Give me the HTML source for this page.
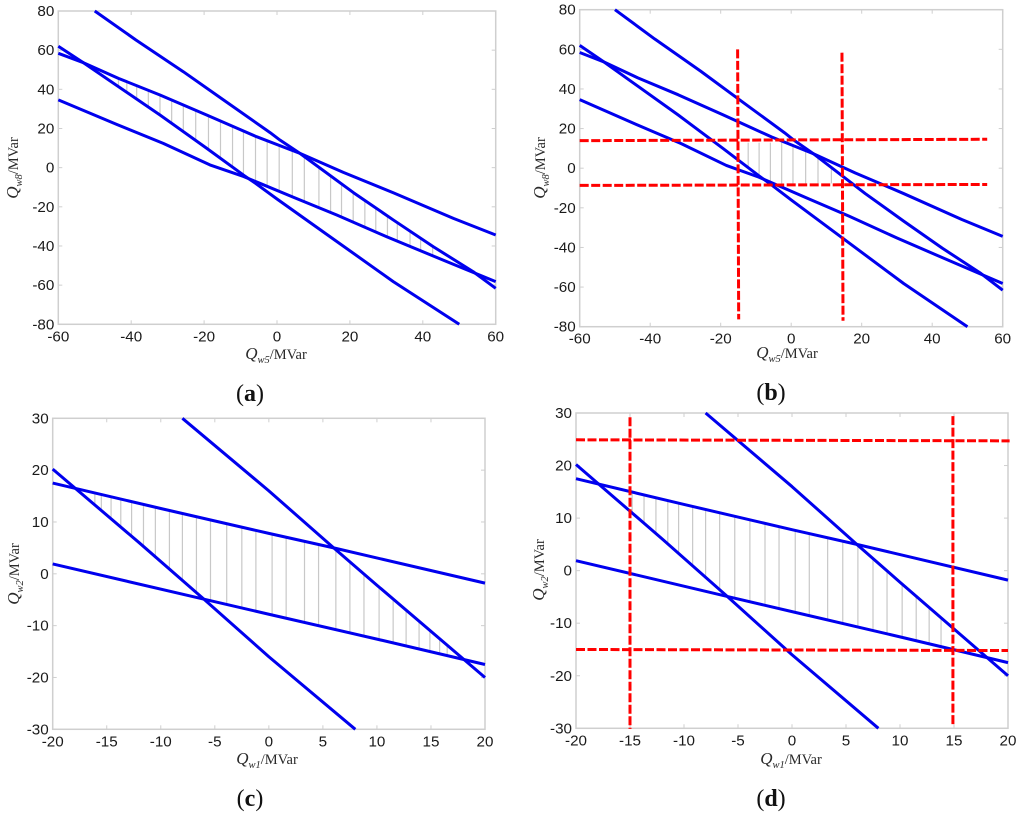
<!DOCTYPE html>
<html lang="en">
<head>
<meta charset="utf-8">
<title>Feasible reactive power regions</title>
<style>
html,body{margin:0;padding:0;background:#fff;}
#figure{display:block;width:1024px;height:815px;filter:blur(0.35px);}
.tick{font-family:"Liberation Sans",sans-serif;font-size:15.2px;fill:#1a1a1a;}
.axl{font-family:"Liberation Serif",serif;font-size:14.5px;fill:#2a2a2a;}
.axl .i{font-style:italic;font-size:17px;}
.axl .s{font-style:italic;font-size:10.5px;}
.cap{font-family:"Liberation Serif",serif;font-size:24px;fill:#111;}
.cap .b{font-weight:bold;}
</style>
</head>
<body>
<svg id="figure" xmlns="http://www.w3.org/2000/svg" width="1024" height="815" viewBox="0 0 1024 815">
  <g id="panel-a">
    <text class="axl" x="276" y="359" text-anchor="middle"><tspan class="i">Q</tspan><tspan class="s" dy="4">w5</tspan><tspan dy="-4">/MVar</tspan></text>
    <text class="axl" transform="translate(18,168) rotate(-90)" text-anchor="middle"><tspan class="i">Q</tspan><tspan class="s" dy="4">w8</tspan><tspan dy="-4">/MVar</tspan></text>
    <text class="cap" x="250" y="401" text-anchor="middle">(<tspan class="b">a</tspan>)</text>
  </g>
  <g id="panel-b">
    <text class="axl" x="787" y="358" text-anchor="middle"><tspan class="i">Q</tspan><tspan class="s" dy="4">w5</tspan><tspan dy="-4">/MVar</tspan></text>
    <text class="axl" transform="translate(545,168) rotate(-90)" text-anchor="middle"><tspan class="i">Q</tspan><tspan class="s" dy="4">w8</tspan><tspan dy="-4">/MVar</tspan></text>
    <text class="cap" x="771" y="400" text-anchor="middle">(<tspan class="b">b</tspan>)</text>
  </g>
  <g id="panel-c">
    <text class="axl" x="267" y="764" text-anchor="middle"><tspan class="i">Q</tspan><tspan class="s" dy="4">w1</tspan><tspan dy="-4">/MVar</tspan></text>
    <text class="axl" transform="translate(19,574) rotate(-90)" text-anchor="middle"><tspan class="i">Q</tspan><tspan class="s" dy="4">w2</tspan><tspan dy="-4">/MVar</tspan></text>
    <text class="cap" x="250" y="806" text-anchor="middle">(<tspan class="b">c</tspan>)</text>
  </g>
  <g id="panel-d">
    <text class="axl" x="791" y="764" text-anchor="middle"><tspan class="i">Q</tspan><tspan class="s" dy="4">w1</tspan><tspan dy="-4">/MVar</tspan></text>
    <text class="axl" transform="translate(544,570) rotate(-90)" text-anchor="middle"><tspan class="i">Q</tspan><tspan class="s" dy="4">w2</tspan><tspan dy="-4">/MVar</tspan></text>
    <text class="cap" x="771" y="806" text-anchor="middle">(<tspan class="b">d</tspan>)</text>
  </g>
</svg>
<script>
// Tick values
var ticksX58 = [-60, -40, -20, 0, 20, 40, 60];
var ticksY58 = [-80, -60, -40, -20, 0, 20, 40, 60, 80];
var ticksX12 = [-20, -15, -10, -5, 0, 5, 10, 15, 20];
var ticksY12 = [-30, -20, -10, 0, 10, 20, 30];

// Boundary lines, Qw5 / Qw8 (panels a, b)
var line58AX = [-50, -38.7, -25.7, -14.7, -1.9, 0.8, 6.3, 21, 31.9, 42.9, 53.8, 60];
var line58AY = [80, 65.2, 49, 34.6, 17.9, 14.1, 7.3, -12.8, -26.7, -40.4, -53.1, -61.6];
var line58BX = [-60, -53.1, -32.1, -19.3, -9.2, -5.9, 0, 13.6, 31.9, 50];
var line58BY = [62, 53.6, 26.9, 9.9, -3.8, -8, -16, -34, -58.2, -80];
var line58CX = [-60, -53.1, -43.5, -32.1, -19.3, -5.6, 6.3, 18.2, 31.9, 48.4, 60];
var line58CY = [58.4, 53.6, 45.6, 37.1, 26.9, 15.8, 7.3, -2.4, -12.8, -25.9, -34.4];
var line58DX = [-60, -44, -31.2, -18.4, -9.2, -4.7, 4.5, 16.4, 30.1, 46.6, 60];
var line58DY = [34.6, 22.1, 12.4, 1.4, -4.5, -8, -15.1, -24.2, -35.3, -48, -58.2];

// Boundary lines, Qw1 / Qw2 (panels c, d)
var line12AX = [-8, 0, 6, 10, 20];
var line12AY = [30, 16, 5, -2.2, -20];
var line12BX = [-20, -12, -6, 0, 8];
var line12BY = [20.2, 6, -4.9, -16, -30];
var line12CX = [-20, -10, 0, 6, 20];
var line12CY = [17.5, 12.6, 7.8, 5, -1.8];
var line12DX = [-20, -6, 0, 10, 20];
var line12DY = [1.9, -4.9, -7.8, -12.6, -17.5];

// Hatch positions along x
var hatchA = [-43.5,-41.2,-38.5,-35.3,-32.1,-28.9,-25.7,-22.3,-18.8,-15.5,-12.2,-9.2,-5.9,-2.7,0.6,4.2,7.5,11.5,14.7,17.7,20.9,24.1,27.1,30.3,33,36.5,39.4,42.7];
var hatchB = [-12.2,-9.1,-5.9,-2.7,0.5,4.1,7.6,11.4];
var hatchC = [-16.1,-15.5,-14.6,-13.7,-12.7,-11.6,-10.5,-9.2,-8,-6.7,-5.4,-3.9,-2.5,-1.2,0.3,1.6,3.3,4.6,6.2,7.5,8.8,10.2,11.5,12.7,13.9,14.9,15.8,16.5];
var hatchD = [-14.8,-13.7,-12.6,-11.5,-10.5,-9.2,-8,-6.7,-5.3,-3.9,-2.5,-1.2,0.3,1.6,3.3,4.7,6.1,7.5,8.8,10.2,11.5,12.7,13.8];

// Hatch limits imposed by the dashed limit lines (panel b, d)
var hatchLimitsB = [-7.7, 12.9];
var hatchLimitsD = [-15, 24.8];

// Red dashed limits: [x1, y1, x2, y2] in data units
var limitsBV1 = [-15.2, 60, -14.9, -76.3];
var limitsBV2 = [14.4, 58.3, 14.7, -77];
var limitsBH1 = [-60, 13.9, 55.6, 14.6];
var limitsBH2 = [-60, -8.7, 55.6, -8.2];
var limitsDV1 = [-15, 29.2, -15, -30.1];
var limitsDV2 = [14.9, 29.4, 14.9, -29.5];
var limitsDH1 = [-20, 24.9, 20.15, 24.7];
var limitsDH2 = [-20, -15, 20, -15.2];

var SVGNS = 'http://www.w3.org/2000/svg';

function mk(tag, attrs, parent) {
  var el = document.createElementNS(SVGNS, tag);
  for (var k in attrs) el.setAttribute(k, attrs[k]);
  parent.appendChild(el);
  return el;
}

function interp(xs, ys, x) {
  if (x <= xs[0]) return ys[0] + (x - xs[0]) * (ys[1] - ys[0]) / (xs[1] - xs[0]);
  for (var i = 1; i < xs.length; i++) {
    if (x <= xs[i]) return ys[i - 1] + (x - xs[i - 1]) * (ys[i] - ys[i - 1]) / (xs[i] - xs[i - 1]);
  }
  var n = xs.length - 1;
  return ys[n] + (x - xs[n]) * (ys[n] - ys[n - 1]) / (xs[n] - xs[n - 1]);
}

function drawPanel(p) {
  var g = document.getElementById(p.id);
  var xMin = p.ticksX[0], xMax = p.ticksX[p.ticksX.length - 1];
  var yMin = p.ticksY[0], yMax = p.ticksY[p.ticksY.length - 1];
  var sx = function (v) { return p.left + (v - xMin) / (xMax - xMin) * (p.right - p.left); };
  var sy = function (v) { return p.bottom - (v - yMin) / (yMax - yMin) * (p.bottom - p.top); };

  var frame = mk('rect', {x: p.left, y: p.top, width: p.right - p.left, height: p.bottom - p.top, fill: 'none', stroke: '#cfcfcf', 'stroke-width': 1.5}, g);
  
  

  p.ticksX.forEach(function (v) {
    var x = sx(v);
    var t1 = mk('line', {x1: x, x2: x, y1: p.bottom, y2: p.bottom - 4, stroke: '#cfcfcf', 'stroke-width': 1}, g);
    
    
    var t2 = mk('line', {x1: x, x2: x, y1: p.top, y2: p.top + 4, stroke: '#cfcfcf', 'stroke-width': 1}, g);
    
    
    var lab = mk('text', {x: x, y: p.bottom + 17, 'text-anchor': 'middle', 'class': 'tick'}, g);
    
    
    lab.textContent = String(v);
  });

  p.ticksY.forEach(function (v) {
    var y = sy(v);
    var t1 = mk('line', {x1: p.left, x2: p.left + 4, y1: y, y2: y, stroke: '#cfcfcf', 'stroke-width': 1}, g);
    
    
    var t2 = mk('line', {x1: p.right, x2: p.right - 4, y1: y, y2: y, stroke: '#cfcfcf', 'stroke-width': 1}, g);
    
    
    var lab = mk('text', {x: p.left - 4, y: y + 5, 'text-anchor': 'end', 'class': 'tick'}, g);
    
    
    lab.textContent = String(v);
  });

  p.hatch.forEach(function (x) {
    var top = Math.min(interp(p.lines[0][0], p.lines[0][1], x), interp(p.lines[2][0], p.lines[2][1], x));
    var bot = Math.max(interp(p.lines[1][0], p.lines[1][1], x), interp(p.lines[3][0], p.lines[3][1], x));
    if (p.hatchLimits) {
      top = Math.min(top, p.hatchLimits[1]);
      bot = Math.max(bot, p.hatchLimits[0]);
    }
    var h = mk('line', {x1: sx(x), x2: sx(x), y1: sy(top), y2: sy(bot), stroke: '#c8c8c8', 'stroke-width': 1.2}, g);
    
    
  });

  p.lines.forEach(function (ln) {
    var pts = ln[0].map(function (x, i) { return sx(x) + ',' + sy(ln[1][i]); }).join(' ');
    var pl = mk('polyline', {points: pts, fill: 'none', stroke: '#0000ee', 'stroke-width': 3, 'stroke-linejoin': 'round'}, g);
    
    
  });

  p.limits.forEach(function (s) {
    var r = mk('line', {x1: sx(s[0]), y1: sy(s[1]), x2: sx(s[2]), y2: sy(s[3]), stroke: '#ff0000', 'stroke-width': 3, 'stroke-dasharray': '9 2.5'}, g);
    
    
  });
}

var lines58 = [[line58AX, line58AY], [line58BX, line58BY], [line58CX, line58CY], [line58DX, line58DY]];
var lines12 = [[line12AX, line12AY], [line12BX, line12BY], [line12CX, line12CY], [line12DX, line12DY]];

drawPanel({id: 'panel-a', left: 58.3, right: 495.7, top: 11, bottom: 324.3, ticksX: ticksX58, ticksY: ticksY58, lines: lines58, hatch: hatchA, hatchLimits: null, limits: []});
drawPanel({id: 'panel-b', left: 579.7, right: 1002.7, top: 9.7, bottom: 326.7, ticksX: ticksX58, ticksY: ticksY58, lines: lines58, hatch: hatchB, hatchLimits: hatchLimitsB, limits: [limitsBV1, limitsBV2, limitsBH1, limitsBH2]});
drawPanel({id: 'panel-c', left: 52.7, right: 485, top: 418.3, bottom: 729.3, ticksX: ticksX12, ticksY: ticksY12, lines: lines12, hatch: hatchC, hatchLimits: null, limits: []});
drawPanel({id: 'panel-d', left: 576, right: 1008, top: 413, bottom: 728.3, ticksX: ticksX12, ticksY: ticksY12, lines: lines12, hatch: hatchD, hatchLimits: hatchLimitsD, limits: [limitsDV1, limitsDV2, limitsDH1, limitsDH2]});
</script>
</body>
</html>
